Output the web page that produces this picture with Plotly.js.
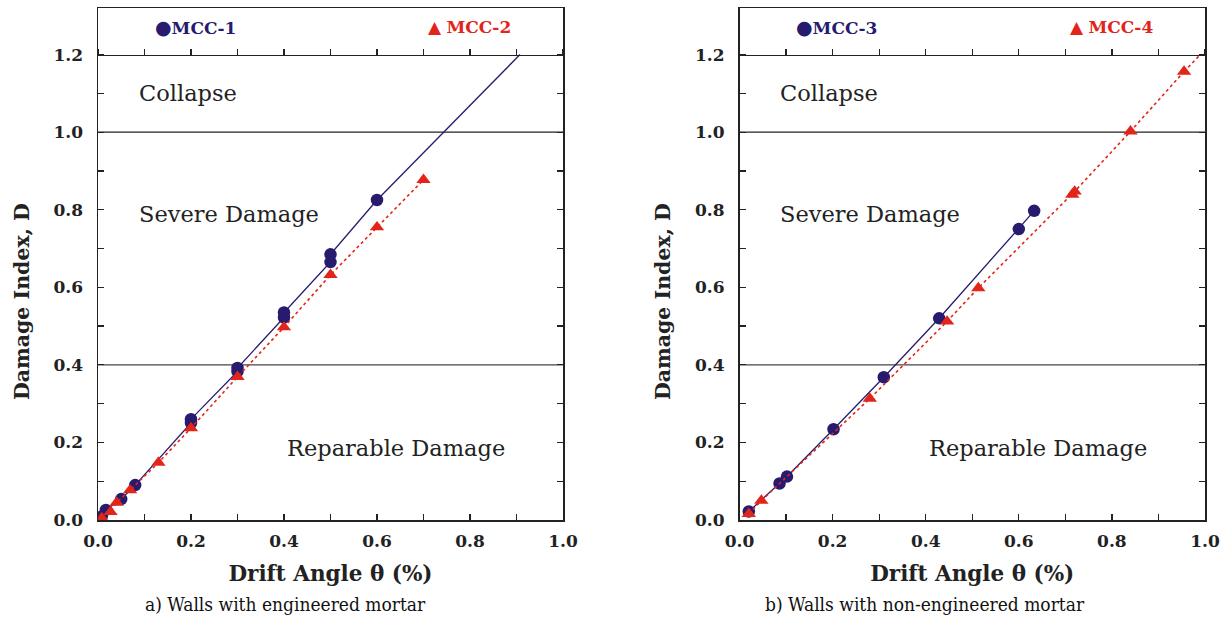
<!DOCTYPE html>
<html>
<head>
<meta charset="utf-8">
<script src="https://cdn.plot.ly/plotly-3.0.1.min.js"></script>
<style>html,body{margin:0;padding:0;background:#fff;}#chart{width:1230px;height:619px;}</style>
</head>
<body>
<div id="chart"></div>
<script>
// ---- data ----
const mcc1X = [0.008, 0.017, 0.05, 0.08, 0.2, 0.2, 0.3, 0.3, 0.4, 0.4, 0.5, 0.5, 0.6];
const mcc1Y = [0.009, 0.026, 0.054, 0.09, 0.25, 0.26, 0.383, 0.392, 0.522, 0.535, 0.665, 0.685, 0.825];
const mcc1ExtX = [0.6, 0.9075];
const mcc1ExtY = [0.825, 1.2];

const mcc2X = [0.008, 0.027, 0.04, 0.069, 0.13, 0.2, 0.3, 0.4, 0.5, 0.6, 0.7];
const mcc2Y = [0.005, 0.021, 0.045, 0.077, 0.148, 0.237, 0.369, 0.497, 0.632, 0.755, 0.877];

const mcc3X = [0.02, 0.086, 0.102, 0.202, 0.31, 0.429, 0.6, 0.633];
const mcc3Y = [0.022, 0.094, 0.112, 0.234, 0.368, 0.52, 0.75, 0.797];

const mcc4X = [0.02, 0.047, 0.28, 0.446, 0.513, 0.715, 0.72, 0.84, 0.955];
const mcc4Y = [0.016, 0.05, 0.313, 0.512, 0.598, 0.839, 0.847, 1.002, 1.156];
const mcc4ExtX = [0.955, 0.99];
const mcc4ExtY = [1.156, 1.2];

const limitLines = [0.4, 1.0];   // damage state boundaries
const topLimit = 1.2;
const yTop = 1.32;
const xTickVals = [0, 0.1, 0.2, 0.3, 0.4, 0.5, 0.6, 0.7, 0.8, 0.9, 1.0];
const xTickText = ['0.0', '', '0.2', '', '0.4', '', '0.6', '', '0.8', '', '1.0'];
const yTickVals = [0, 0.1, 0.2, 0.3, 0.4, 0.5, 0.6, 0.7, 0.8, 0.9, 1.0, 1.1, 1.2];
const yTickText = ['0.0', '', '0.2', '', '0.4', '', '0.6', '', '0.8', '', '1.0', '', '1.2'];
const zoneLabels = ['Collapse', 'Severe Damage', 'Reparable Damage'];
const zoneX = [0.083, 0.083, 0.402];
const zoneY = [1.10, 0.79, 0.186];
const legendNames = ['MCC-1', 'MCC-2', 'MCC-3', 'MCC-4'];
const captions = ['a) Walls with engineered mortar', 'b) Walls with non-engineered mortar'];
const xTitle = 'Drift Angle θ (%)';
const yTitle = 'Damage Index, D';

// ---- style ----
const NAVY = '#261b6e';
const RED = '#e1251b';
const serif = 'DejaVu Serif';
const captionFont = 'DejaVu Serif Condensed, DejaVu Serif';
const dom1 = [98/1230, 563/1230];
const dom2 = [739.5/1230, 1205/1230];
const yDom = [99/619, 611/619];
const pos12 = yDom[0] + (yDom[1]-yDom[0]) * topLimit / yTop;

function circ(x, y, xa, ya, name) {
  return {x, y, xaxis: xa, yaxis: ya, name, mode: 'lines+markers', type: 'scatter',
    line: {color: NAVY, width: 1.3},
    marker: {symbol: 'circle', size: 12.5, color: NAVY}, showlegend: false, hoverinfo: 'x+y'};
}
function tri(x, y, xa, ya, name) {
  return {x, y, xaxis: xa, yaxis: ya, name, mode: 'lines+markers', type: 'scatter',
    line: {color: RED, width: 1.6, dash: 'dot'},
    marker: {symbol: 'triangle-up', size: 12.5, color: RED}, showlegend: false, hoverinfo: 'x+y'};
}
function ext(x, y, xa, ya, color, dash, w) {
  return {x, y, xaxis: xa, yaxis: ya, mode: 'lines', type: 'scatter',
    line: {color, width: w, dash}, showlegend: false, hoverinfo: 'skip'};
}
function anchorTrace(xa, ya) {
  // invisible trace so the overlay axis carrying the 1.2 limit line is drawn
  return {x: [0], y: [0], xaxis: xa, yaxis: ya, mode: 'markers', type: 'scatter',
    marker: {opacity: 0, size: 1}, showlegend: false, hoverinfo: 'skip'};
}

const data = [
  anchorTrace('x3', 'y'),
  anchorTrace('x4', 'y2'),
  ext(mcc1ExtX, mcc1ExtY, 'x', 'y', NAVY, 'solid', 1.3),
  circ(mcc1X, mcc1Y, 'x', 'y', legendNames[0]),
  tri(mcc2X, mcc2Y, 'x', 'y', legendNames[1]),
  circ(mcc3X, mcc3Y, 'x2', 'y2', legendNames[2]),
  ext(mcc4ExtX, mcc4ExtY, 'x2', 'y2', RED, 'dot', 1.6),
  tri(mcc4X, mcc4Y, 'x2', 'y2', legendNames[3]),
];

const tickFont = {family: serif, size: 17, color: '#222', weight: 'bold'};
function xAxis(dom, anchor) {
  return {domain: dom, anchor, range: [0, 1], tickmode: 'array', tickvals: xTickVals, ticktext: xTickText,
    ticks: 'inside', ticklen: 6, tickcolor: '#222', tickwidth: 1.2, showline: true, linecolor: '#222', linewidth: 1.5,
    mirror: true, showgrid: false, zeroline: false, tickfont: tickFont, ticklabelstandoff: 5,
    automargin: false,
    title: {text: '<b>' + xTitle + '</b>', font: {family: serif, size: 21.5, color: '#222'}, standoff: 16}};
}
function yAxis(dom, anchor) {
  return {domain: dom, anchor, range: [0, yTop], tickmode: 'array', tickvals: yTickVals, ticktext: yTickText,
    ticks: 'inside', ticklen: 6, tickcolor: '#222', tickwidth: 1.2, showline: true, linecolor: '#222', linewidth: 1.5,
    mirror: 'ticks', showgrid: false, zeroline: false, tickfont: tickFont, ticklabelstandoff: 10,
    automargin: false};
}
function topAxis(over, dom) {
  return {overlaying: over, domain: dom, anchor: 'free', position: pos12, side: 'top', range: [0, 1],
    tickmode: 'array', tickvals: xTickVals, showticklabels: false, ticks: 'outside', ticklen: 6,
    tickcolor: '#222', tickwidth: 1.2, showline: true, linecolor: '#222', linewidth: 1.3,
    showgrid: false, zeroline: false, automargin: false, fixedrange: true};
}

const shapes = [];
[['x', 'y'], ['x2', 'y2']].forEach(([xa, ya]) => {
  limitLines.forEach(v => shapes.push({type: 'line', xref: xa + ' domain', yref: ya, x0: 0, x1: 1, y0: v, y1: v,
    line: {color: v === 1.0 ? '#222' : '#444', width: 1.2}, layer: 'below'}));
});

const annotations = [];
[['x', 'y'], ['x2', 'y2']].forEach(([xa, ya], p) => {
  zoneLabels.forEach((t, i) => annotations.push({xref: xa, yref: ya, x: zoneX[i], y: zoneY[i], text: t,
    showarrow: false, xanchor: 'left', yanchor: 'middle', font: {family: serif, size: 22.5, color: '#222'}}));
  annotations.push({xref: xa, yref: ya, x: 0.118, y: 1.272, text: '<span style="font-size:19px">●</span><b>' + legendNames[2*p] + '</b>',
    showarrow: false, xanchor: 'left', yanchor: 'middle', font: {family: serif, size: 17, color: NAVY}});
  annotations.push({xref: xa, yref: ya, x: 0.706, y: 1.272, text: '▲ <b>' + legendNames[2*p+1] + '</b>',
    showarrow: false, xanchor: 'left', yanchor: 'middle', font: {family: serif, size: 17, color: RED}});
});
// y-axis titles (placed slightly below the axis centre, as in the original)
[22, 663].forEach(px => annotations.push({xref: 'paper', yref: 'paper', x: px/1230, y: 1 - 302/619,
  text: '<b>' + yTitle + '</b>', textangle: -90, showarrow: false, xanchor: 'center', yanchor: 'middle',
  font: {family: serif, size: 20.5, color: '#222'}}));
annotations.push({xref: 'paper', yref: 'paper', x: 285/1230, y: 1 - 604/619, text: captions[0], showarrow: false,
  xanchor: 'center', yanchor: 'middle', font: {family: captionFont, size: 19, color: '#111'}});
annotations.push({xref: 'paper', yref: 'paper', x: 925/1230, y: 1 - 604/619, text: captions[1], showarrow: false,
  xanchor: 'center', yanchor: 'middle', font: {family: captionFont, size: 19, color: '#111'}});

const layout = {
  width: 1230, height: 619, margin: {l: 0, r: 0, t: 0, b: 0},
  paper_bgcolor: '#fff', plot_bgcolor: '#fff', showlegend: false,
  xaxis: xAxis(dom1, 'y'), yaxis: yAxis(yDom, 'x'),
  xaxis2: xAxis(dom2, 'y2'), yaxis2: yAxis(yDom, 'x2'),
  xaxis3: topAxis('x', dom1), xaxis4: topAxis('x2', dom2),
  shapes, annotations,
};

Plotly.newPlot('chart', data, layout, {displayModeBar: false, staticPlot: true});
</script>
</body>
</html>
